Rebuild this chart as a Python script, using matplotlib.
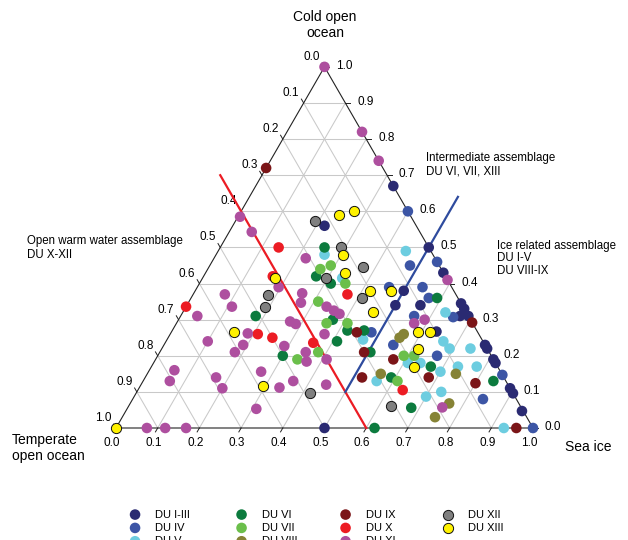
import matplotlib
matplotlib.use("Agg")
import matplotlib.pyplot as plt
import numpy as np

plt.rcParams['font.family'] = ['Liberation Sans', 'DejaVu Sans']

# ---------------- data: (sea ice, cold open ocean) fractions; temperate = 1 - both
du_i_iii_sea = [0.22, 0.33, 0.50, 0.57, 0.50, 0.56, 0.50, 0.655, 0.67, 0.67, 0.69, 0.635, 0.77, 0.78, 0.81, 0.82, 0.89, 0.904, 0.95, 0.50]
du_i_iii_cold = [0.56, 0.67, 0.50, 0.43, 0.38, 0.34, 0.34, 0.345, 0.33, 0.31, 0.31, 0.267, 0.23, 0.22, 0.19, 0.18, 0.11, 0.096, 0.047, 0.0]

du_iv_sea = [0.40, 0.54, 0.48, 0.46, 0.54, 0.57, 0.56, 0.655, 0.48, 0.55, 0.67, 0.853, 0.84, 1.0]
du_iv_cold = [0.60, 0.46, 0.45, 0.39, 0.39, 0.36, 0.31, 0.307, 0.265, 0.23, 0.20, 0.147, 0.08, 0.0]

du_v_sea = [0.45, 0.26, 0.335, 0.63, 0.47, 0.665, 0.69, 0.74, 0.61, 0.64, 0.735, 0.78, 0.70, 0.56, 0.73, 0.70, 0.93]
du_v_cold = [0.49, 0.48, 0.415, 0.32, 0.245, 0.24, 0.22, 0.22, 0.18, 0.18, 0.17, 0.17, 0.156, 0.13, 0.10, 0.087, 0.0]

du_vi_sea = [0.25, 0.27, 0.315, 0.59, 0.18, 0.37, 0.42, 0.46, 0.41, 0.30, 0.505, 0.67, 0.59, 0.84, 0.68, 0.62]
du_vi_cold = [0.50, 0.42, 0.40, 0.36, 0.31, 0.30, 0.27, 0.27, 0.24, 0.20, 0.21, 0.17, 0.14, 0.13, 0.056, 0.0]

du_vii_sea = [0.27, 0.29, 0.35, 0.31, 0.36, 0.41, 0.34, 0.38, 0.59, 0.615, 0.61]
du_vii_cold = [0.44, 0.45, 0.40, 0.35, 0.29, 0.29, 0.19, 0.21, 0.20, 0.20, 0.13]

du_viii_sea = [0.56, 0.555, 0.56, 0.74, 0.765, 0.75]
du_viii_cold = [0.26, 0.25, 0.15, 0.15, 0.068, 0.03]

du_ix_sea = [0.0, 0.445, 0.49, 0.57, 0.708, 0.68, 0.52, 0.80, 0.96]
du_ix_cold = [0.72, 0.265, 0.21, 0.19, 0.292, 0.14, 0.14, 0.124, 0.0]

du_x_sea = [0.14, 0.166, 0.0, 0.37, 0.21, 0.25, 0.355, 0.635]
du_x_cold = [0.50, 0.42, 0.336, 0.37, 0.26, 0.25, 0.236, 0.105]

du_xi_sea = [0.0, 0.18, 0.26, 0.005, 0.054, 0.22, 0.195, 0.076, 0.26, 0.27, 0.59, 0.11, 0.04, 0.337,
             0.36, 0.378, 0.27, 0.287, 0.185, 0.37, 0.19, 0.10, 0.18, 0.29, 0.35, 0.365, 0.41, 0.57,
             0.59, 0.06, 0.064, 0.17, 0.27, 0.36, 0.20, 0.336, 0.444, 0.31, 0.754, 0.074, 0.118, 0.168]
du_xi_cold = [1.0, 0.82, 0.74, 0.585, 0.543, 0.47, 0.39, 0.37, 0.373, 0.347, 0.41, 0.336, 0.31, 0.336,
              0.325, 0.316, 0.295, 0.288, 0.262, 0.26, 0.23, 0.24, 0.21, 0.227, 0.21, 0.184, 0.19, 0.29,
              0.30, 0.16, 0.13, 0.14, 0.156, 0.13, 0.11, 0.112, 0.12, 0.053, 0.057, 0.0, 0.0, 0.0]

du_xii_sea = [0.19, 0.29, 0.37, 0.295, 0.18, 0.19, 0.41, 0.416, 0.63]
du_xii_cold = [0.574, 0.50, 0.447, 0.415, 0.367, 0.336, 0.36, 0.098, 0.061]

du_xiii_sea = [0.24, 0.27, 0.305, 0.335, 0.174, 0.42, 0.47, 0.457, 0.15, 0.59, 0.62, 0.615, 0.63, 0.295, 0.0]
du_xiii_cold = [0.59, 0.60, 0.48, 0.43, 0.415, 0.378, 0.378, 0.32, 0.265, 0.267, 0.267, 0.22, 0.17, 0.117, 0.0]

group_labels = ["DU I-III", "DU IV", "DU V", "DU VI", "DU VII", "DU VIII",
                "DU IX", "DU X", "DU XI", "DU XII", "DU XIII"]
group_sea = [du_i_iii_sea, du_iv_sea, du_v_sea, du_vi_sea, du_vii_sea, du_viii_sea,
             du_ix_sea, du_x_sea, du_xi_sea, du_xii_sea, du_xiii_sea]
group_cold = [du_i_iii_cold, du_iv_cold, du_v_cold, du_vi_cold, du_vii_cold, du_viii_cold,
              du_ix_cold, du_x_cold, du_xi_cold, du_xii_cold, du_xiii_cold]

# boundary lines (sea ice, cold)
red_line_sea = [0.60, -0.10]
red_line_cold = [0.0, 0.70]
blue_line_sea = [0.50, 0.50]
blue_line_cold = [0.10, 0.64]

tick_values = [i / 10 for i in range(11)]
tick_labels = [f"{v:.1f}" for v in tick_values]

# ---------------- styles
colors = ["#2a2a72", "#3c55a5", "#6dcde0", "#0c7b3e", "#6bbf4b", "#868336",
          "#7b1518", "#ec1c24", "#ae4f9f", "#808080", "#fff200"]
edged = {"DU XII", "DU XIII"}

W, H, DPI = 628, 540, 100
OX, OY, SIDE = 116.0, 428.0, 417.0   # pixel position of the temperate vertex, side length
R3 = np.sqrt(3) / 2


def tern(s, c):
    s = np.asarray(s, float)
    c = np.asarray(c, float)
    return s + c / 2, c * R3


def pxoff(dx, dy):
    return dx / SIDE, -dy / SIDE


def fx(px):
    return px / W


def fy(py):
    return 1 - py / H


fig = plt.figure(figsize=(W / DPI, H / DPI), dpi=DPI)
ax = fig.add_axes([0, 0, 1, 1])
ax.set_xlim(-OX / SIDE, (W - OX) / SIDE)
ax.set_ylim(-(H - OY) / SIDE, OY / SIDE)
ax.axis('off')

# grid
grid_kw = dict(color="#c9c9c9", lw=0.75, zorder=1)
for k in range(1, 10):
    f = k / 10
    x, y = tern([0, 1 - f], [f, f]); ax.plot(x, y, **grid_kw)
    x, y = tern([f, f], [0, 1 - f]); ax.plot(x, y, **grid_kw)
    x, y = tern([1 - f, 0], [0, 1 - f]); ax.plot(x, y, **grid_kw)

# triangle
x, y = tern([0, 1, 0, 0], [0, 0, 1, 0])
ax.plot(x, y, color="#222222", lw=0.8, zorder=2, solid_joinstyle='miter')

# ticks & labels
tl = 4.5
for v, lab in zip(tick_values, tick_labels):
    # bottom (sea ice)
    x0, y0 = tern(v, 0)
    dx, dy = pxoff(-0.5 * tl, 0.866 * tl)
    ax.plot([x0, x0 + dx], [y0, y0 + dy], color="#222222", lw=0.7, zorder=2)
    ox, oy = pxoff(-4, 15)
    ax.text(x0 + ox, y0 + oy, lab, ha='center', va='center', fontsize=8.5)
    # right (cold)
    x0, y0 = tern(1 - v, v)
    dx, dy = pxoff(tl, 0)
    ax.plot([x0, x0 + dx], [y0, y0 + dy], color="#222222", lw=0.7, zorder=2)
    ox, oy = pxoff(20, -1)
    ax.text(x0 + ox, y0 + oy, lab, ha='center', va='center', fontsize=8.5)
    # left (temperate)
    x0, y0 = tern(0, 1 - v)
    dx, dy = pxoff(-0.5 * tl, -0.866 * tl)
    ax.plot([x0, x0 + dx], [y0, y0 + dy], color="#222222", lw=0.7, zorder=2)
    ox, oy = pxoff(-12.5, -10)
    ax.text(x0 + ox, y0 + oy, lab, ha='center', va='center', fontsize=8.5)

# boundary lines
x, y = tern(red_line_sea, red_line_cold)
ax.plot(x, y, color="#ec1c24", lw=1.6, zorder=3)
x, y = tern(blue_line_sea, blue_line_cold)
ax.plot(x, y, color="#2e4b9e", lw=1.6, zorder=3)

# points
handles = []
for lab, s, c, col in zip(group_labels, group_sea, group_cold, colors):
    x, y = tern(s, c)
    if lab in edged:
        h = ax.scatter(x, y, s=54, color=col, edgecolors="#111111", linewidths=0.7, zorder=4, label=lab)
    else:
        h = ax.scatter(x, y, s=58, color=col, edgecolors='none', zorder=4, label=lab)
    handles.append(h)

# axis titles
fig.text(fx(325), fy(17), "Cold open", ha='center', va='center', fontsize=10)
fig.text(fx(325), fy(33), "ocean", ha='center', va='center', fontsize=10)
fig.text(fx(12), fy(440), "Temperate", ha='left', va='center', fontsize=10)
fig.text(fx(12), fy(456), "open ocean", ha='left', va='center', fontsize=10)
fig.text(fx(565), fy(447), "Sea ice", ha='left', va='center', fontsize=10)

# annotations
ann = 8.3
fig.text(fx(27), fy(241), "Open warm water assemblage", ha='left', va='center', fontsize=ann)
fig.text(fx(27), fy(255), "DU X-XII", ha='left', va='center', fontsize=ann)
fig.text(fx(426), fy(158), "Intermediate assemblage", ha='left', va='center', fontsize=ann)
fig.text(fx(426), fy(171), "DU VI, VII, XIII", ha='left', va='center', fontsize=ann)
fig.text(fx(497), fy(245.5), "Ice related assemblage", ha='left', va='center', fontsize=ann)
fig.text(fx(497), fy(258.3), "DU I-V", ha='left', va='center', fontsize=ann)
fig.text(fx(497), fy(271), "DU VIII-IX", ha='left', va='center', fontsize=ann)

# legend: four columns (third row is cut by the figure edge, as in the reference)
col_x = [129.5, 236.0, 340.0, 442.8]
col_items = [handles[0:3], handles[3:6], handles[6:9], handles[9:11]]
for cx, items in zip(col_x, col_items):
    fig.legend(handles=items, labels=[h.get_label() for h in items], loc='upper left',
               bbox_to_anchor=(fx(cx), fy(509.5)), frameon=False, fontsize=8,
               handlelength=1.0, handletextpad=1.3, labelspacing=0.30,
               borderpad=0, borderaxespad=0, scatterpoints=1)

fig.savefig("out.png", dpi=DPI)
